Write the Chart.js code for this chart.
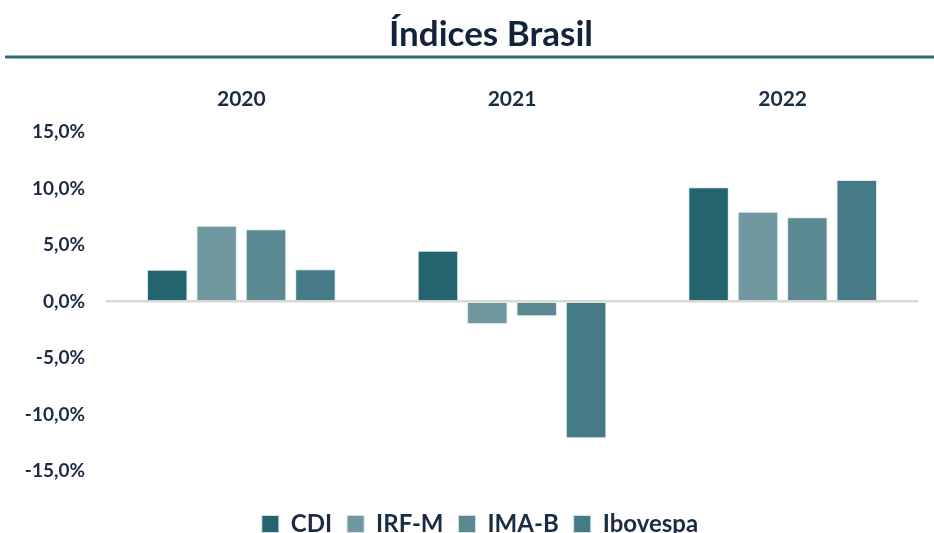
<!DOCTYPE html>
<html>
<head>
<meta charset="utf-8">
<script src="https://cdn.jsdelivr.net/npm/chart.js@4"></script>
<style>
  html, body { margin: 0; padding: 0; background: #fff; overflow: hidden; }
  #wrap { position: relative; width: 934px; height: 546px; }
</style>
</head>
<body>
<div id="wrap"><canvas id="chart"></canvas></div>
<script>
// values (% return per year)
const years = ['2020', '2021', '2022'];
const seriesNames = ['CDI', 'IRF-M', 'IMA-B', 'Ibovespa'];
const cdi = [2.8, 4.5, 10.1];
const irfm = [6.7, -2.0, 7.95];
const imab = [6.4, -1.3, 7.45];
const ibovespa = [2.85, -12.1, 10.75];
const colors = ['#24646f', '#7098a0', '#5b8992', '#447b86'];
const textColor = '#1a2b44';

const titlePlugin = {
    id: 'titleBar',
    afterLayout(chart) {
        // legend is centred a bit right of the canvas centre in the original
        if (chart.legend) {
            chart.legend.left += 21;
            chart.legend.right += 21;
        }
    },
    beforeDraw(chart) {
        const ctx = chart.ctx;
        ctx.save();
        ctx.font = 'bold 35px Lato';
        ctx.fillStyle = '#14233c';
        ctx.textAlign = 'center';
        ctx.textBaseline = 'alphabetic';
        ctx.fillText('Índices Brasil', 491, 46);
        ctx.fillStyle = '#2f6d78';
        ctx.fillRect(5, 55.5, 929, 3);
        ctx.restore();
    }
};

const values = [cdi, irfm, imab, ibovespa];

new Chart(document.getElementById('chart'), {
    type: 'bar',
    data: {
        labels: years,
        datasets: seriesNames.map((name, i) => ({
            label: name,
            data: values[i],
            backgroundColor: colors[i],
            borderColor: 'rgba(215,228,232,0.9)',
            borderWidth: 1,
            categoryPercentage: 0.73,
            barPercentage: 0.82
        }))
    },
    options: {
        responsive: true,
        maintainAspectRatio: false,
        animation: false,
        layout: { padding: { top: 87, left: 0, right: 16, bottom: 0 } },
        plugins: {
            legend: {
                position: 'bottom',
                labels: {
                    boxWidth: 17,
                    boxHeight: 17,
                    padding: 15,
                    color: textColor,
                    font: { family: 'Lato', size: 24, weight: 'bold' }
                }
            },
            tooltip: { enabled: false }
        },
        scales: {
            x: {
                position: 'top',
                grid: { display: false, drawTicks: false },
                border: { display: false },
                ticks: {
                    padding: 20,
                    color: textColor,
                    font: { family: 'Lato', size: 21, weight: 'bold' }
                },
                afterFit: s => { s.height = 45; }
            },
            xb: {
                type: 'category',
                labels: years,
                position: 'bottom',
                grid: { display: false, drawTicks: false },
                border: { display: false },
                ticks: { display: false },
                afterFit: s => { s.height = 26; }
            },
            y: {
                min: -15,
                max: 15,
                grid: {
                    drawTicks: false,
                    color: c => c.tick.value === 0 ? '#d9d9d9' : 'transparent',
                    lineWidth: c => c.tick.value === 0 ? 2.5 : 0
                },
                border: { display: false },
                ticks: {
                    stepSize: 5,
                    padding: 21,
                    color: textColor,
                    font: { family: 'Lato', size: 19, weight: 'bold' },
                    callback: v => v.toFixed(1).replace('.', ',') + '%'
                },
                afterFit: s => { s.width = 106; }
            }
        }
    },
    plugins: [titlePlugin]
});
</script>
</body>
</html>
